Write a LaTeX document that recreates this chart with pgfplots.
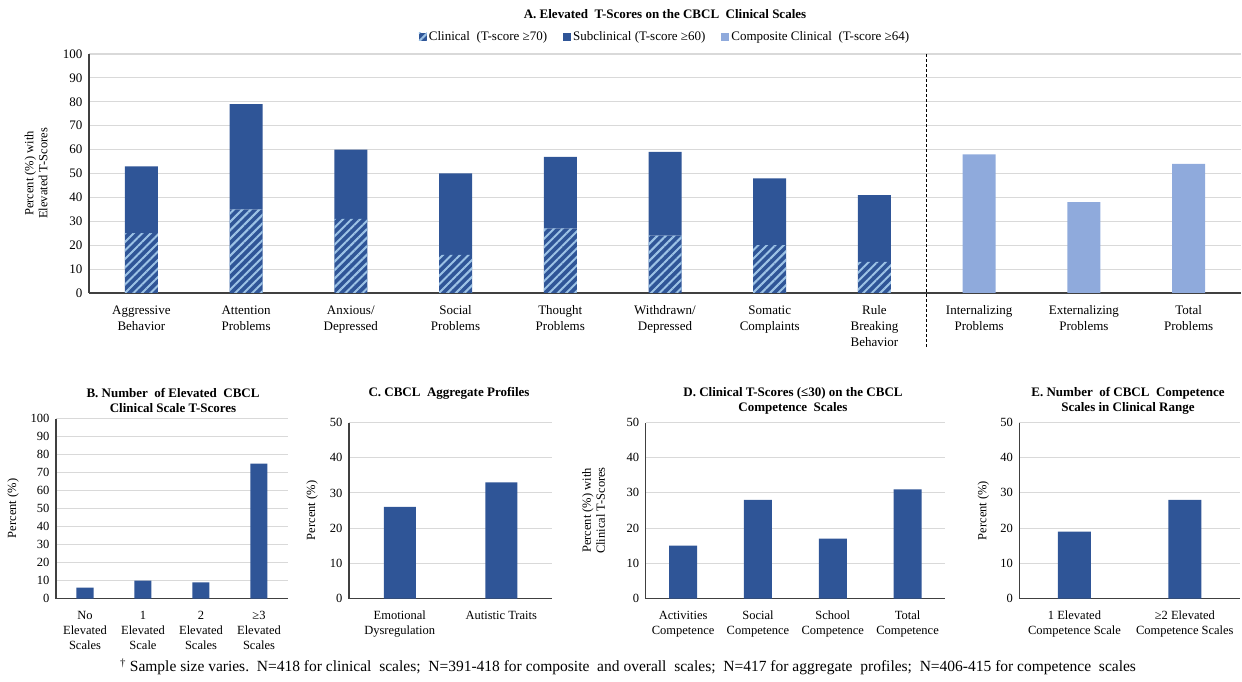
\documentclass[border=0pt]{standalone}
\usepackage{fontspec}
\setmainfont{Liberation Serif}
\usepackage{pgfplots}
\usepackage{pgfplotstable}
\pgfplotsset{compat=1.18}
\usetikzlibrary{patterns.meta}
\definecolor{cblue}{HTML}{2F5597}
\definecolor{lblue}{HTML}{8FAADC}
\definecolor{hblue}{HTML}{9DC3E6}
\definecolor{gridc}{HTML}{D9D9D9}
\definecolor{axc}{HTML}{404040}

\pgfplotstableread{
x clin sub comp
0 25 28 0
1 35 44 0
2 31 29 0
3 16 34 0
4 27 30 0
5 24 35 0
6 20 28 0
7 13 28 0
8 0 0 58
9 0 0 38
10 0 0 54
}\dataA
\pgfplotstableread{
x y
0 6
1 10
2 9
3 75
}\dataB
\pgfplotstableread{
x y
0 26
1 33
}\dataC
\pgfplotstableread{
x y
0 15
1 28
2 17
3 31
}\dataD
\pgfplotstableread{
x y
0 19
1 28
}\dataE

\pgfplotsset{
  base/.style={
    scale only axis, anchor=south west,
    axis x line*=bottom, axis y line*=left,
    axis line style={draw=axc, line width=1.3pt},
    ymajorgrids, grid style={draw=gridc, line width=1.1pt},
    tick style={draw=none}, major tick length=0pt,
    ymin=0, clip=false,
    /pgf/number format/assume math mode=true,
    yticklabel style={font=\fontsize{12.5}{14}\selectfont, xshift=-3pt},
    xticklabel style={font=\fontsize{12.5}{15}\selectfont, align=center, anchor=north, yshift=-9pt},
    ylabel style={font=\fontsize{12.5}{14}\selectfont, align=center},
  },
}

\begin{document}
\begin{tikzpicture}
\path[use as bounding box] (0pt,0pt) rectangle (1242pt,681pt);

% Panel A
\begin{axis}[base, at={(89pt,388pt)}, width=1152pt, height=239pt,
  ymax=100, ytick={0,10,...,100},
  xmin=-0.5, xmax=10.5, xtick={0,...,10},
  xticklabel style={font=\fontsize{13}{16}\selectfont},
  yticklabel style={font=\fontsize{13}{15}\selectfont},
  xticklabels={{Aggressive\\Behavior},{Attention\\Problems},{Anxious/\\Depressed},{Social\\Problems},{Thought\\Problems},{Withdrawn/\\Depressed},{Somatic\\Complaints},{Rule\\Breaking\\Behavior},{Internalizing\\Problems},{Externalizing\\Problems},{Total\\Problems}},
  ybar stacked, bar width=33pt,
  ylabel={Percent (\%) with\\Elevated T-Scores},
  ylabel style={at={([xshift=-53pt]axis description cs:0,0.5)}, anchor=center},
  legend columns=3,
  legend style={at={([yshift=17pt]axis description cs:0.5,1)}, anchor=center, draw=none,
    font=\fontsize{13}{15}\selectfont, inner sep=0pt,
    /tikz/every even column/.append style={column sep=14pt}},
  legend image code/.code={\path[#1, draw=none] (0pt,-4pt) rectangle (8pt,4pt);},
]
\addplot[fill=cblue, draw=none, postaction={pattern={Lines[angle=45,distance=6pt,line width=2pt]}, pattern color=hblue}] table[x=x,y=clin]{\dataA};
\addplot[fill=cblue, draw=none] table[x=x,y=sub]{\dataA};
\addplot[fill=lblue, draw=none] table[x=x,y=comp]{\dataA};
\legend{Clinical\ \ (T-score ≥70),Subclinical (T-score ≥60),Composite Clinical\ \ (T-score ≥64)}
\draw[densely dashed, line width=1pt, black] (axis cs:7.5,100) -- (axis cs:7.5,-22.5);
\end{axis}

% Panel B
\begin{axis}[base, at={(56pt,82.5pt)}, width=232pt, height=180pt,
  ymax=100, ytick={0,10,...,100},
  xmin=-0.5, xmax=3.5, xtick={0,...,3},
  xticklabels={{No\\Elevated\\Scales},{1\\Elevated\\Scale},{2\\Elevated\\Scales},{≥3\\Elevated\\Scales}},
  ybar, bar width=17pt,
  ylabel={Percent (\%)},
  ylabel style={at={([xshift=-43pt]axis description cs:0,0.5)}, anchor=center},
]
\addplot[fill=cblue, draw=none] table[x=x,y=y]{\dataB};
\end{axis}

% Panel C
\begin{axis}[base, at={(349pt,82.5pt)}, width=203pt, height=176pt,
  ymax=50, ytick={0,10,...,50},
  xmin=-0.5, xmax=1.5, xtick={0,1},
  xticklabels={{Emotional\\Dysregulation},{Autistic Traits}},
  ybar, bar width=32pt,
  ylabel={Percent (\%)},
  ylabel style={at={([xshift=-37pt]axis description cs:0,0.5)}, anchor=center},
]
\addplot[fill=cblue, draw=none] table[x=x,y=y]{\dataC};
\end{axis}

% Panel D
\begin{axis}[base, at={(645.7pt,82.5pt)}, width=299.3pt, height=176pt,
  ymax=50, ytick={0,10,...,50},
  xmin=-0.5, xmax=3.5, xtick={0,...,3},
  xticklabels={{Activities\\Competence},{Social\\Competence},{School\\Competence},{Total\\Competence}},
  ybar, bar width=28pt,
  ylabel={Percent (\%) with\\Clinical T-Scores},
  ylabel style={at={([xshift=-52pt]axis description cs:0,0.5)}, anchor=center},
]
\addplot[fill=cblue, draw=none] table[x=x,y=y]{\dataD};
\end{axis}

% Panel E
\begin{axis}[base, at={(1019.3pt,82.5pt)}, width=220.7pt, height=176pt,
  ymax=50, ytick={0,10,...,50},
  xmin=-0.5, xmax=1.5, xtick={0,1},
  xticklabels={{1 Elevated\\Competence Scale},{≥2 Elevated\\Competence Scales}},
  ybar, bar width=33pt,
  ylabel={Percent (\%)},
  ylabel style={at={([xshift=-36pt]axis description cs:0,0.5)}, anchor=center},
]
\addplot[fill=cblue, draw=none] table[x=x,y=y]{\dataE};
\end{axis}

% Titles
\node[font=\bfseries\fontsize{13}{15}\selectfont] at (665pt,667pt) {A. Elevated\ \ T-Scores on the CBCL\ \ Clinical Scales};
\node[font=\bfseries\fontsize{13}{15}\selectfont, align=center] at (173pt,280.5pt) {B. Number\ \ of Elevated\ \ CBCL\\Clinical Scale T-Scores};
\node[font=\bfseries\fontsize{13}{15}\selectfont] at (449pt,288pt) {C. CBCL\ \ Aggregate Profiles};
\node[font=\bfseries\fontsize{13}{15}\selectfont, align=center] at (793pt,280.5pt) {D. Clinical T-Scores (≤30) on the CBCL\\Competence\ \ Scales};
\node[font=\bfseries\fontsize{13}{15}\selectfont, align=center] at (1128pt,280.5pt) {E. Number\ \ of CBCL\ \ Competence\\Scales in Clinical Range};
\node[font=\fontsize{15.5}{17}\selectfont] at (628pt,14pt) {\textsuperscript{†} Sample size varies.\ \ N=418 for clinical\ \ scales;\ \ N=391-418 for composite\ \ and overall\ \ scales;\ \ N=417 for aggregate\ \ profiles;\ \ N=406-415 for competence\ \ scales};
\end{tikzpicture}
\end{document}
